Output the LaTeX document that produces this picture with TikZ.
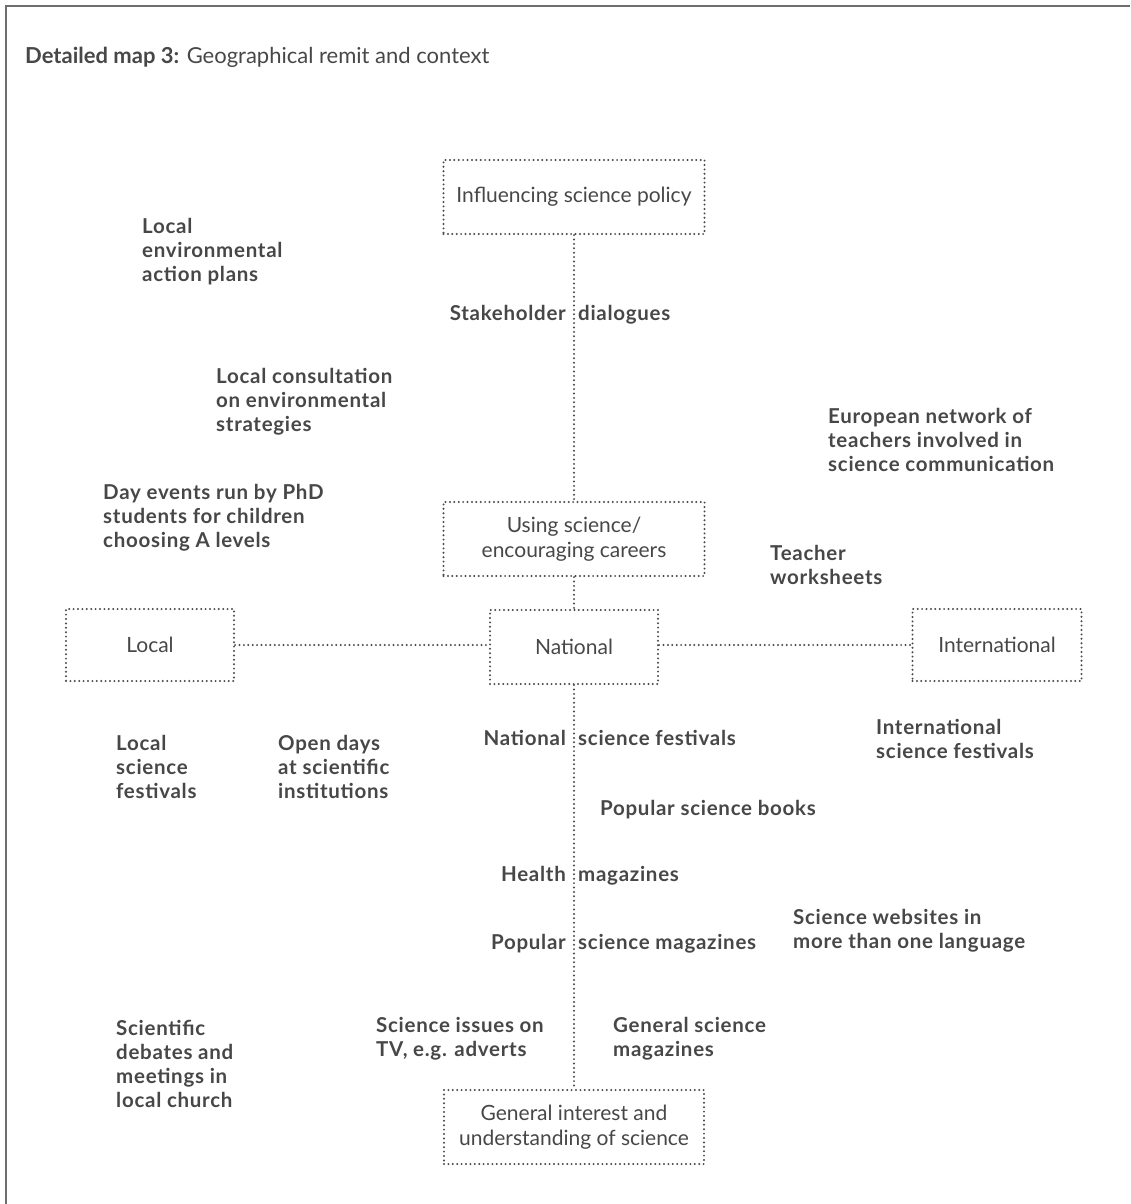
\documentclass[tikz,border=0pt]{standalone}
\usepackage{fontspec}
\setmainfont{Lato}
\newfontfamily\itemfont{Lato}[LetterSpace=3.5]
\definecolor{ink}{HTML}{474747}
\definecolor{dots}{HTML}{4A4A4A}
\definecolor{rule}{HTML}{6E6E6E}
\begin{document}
\begin{tikzpicture}[x=1pt,y=-1pt,
  dotline/.style={draw=dots,line width=2.2pt,line cap=round,dash pattern=on 0pt off 4.4pt},
  areabox/.style={dotline,minimum height=74pt,inner sep=0pt,align=center,text=ink,
    font=\fontsize{21}{24.5}\selectfont},
  item/.style={anchor=north west,inner sep=0pt,align=left,text=ink,
    font=\itemfont\bfseries\fontsize{20.5}{24}\selectfont},
  itemR/.style={item,anchor=north east}]
\useasboundingbox (0,0) rectangle (1130,1204);
% frame
\draw[rule,line width=2pt] (6,1204) -- (6,6) -- (1130,6);
% title
\node[anchor=base west,inner sep=0pt,text=ink,font=\fontsize{22}{26}\selectfont] (title) at (25,64)
  {\textbf{Detailed map 3:} Geographical remit and context};

% areas
\node[areabox,minimum width=261pt] (policy) at (574,197) {Influencing science policy};
\node[areabox,minimum width=261pt] (careers) at (574,539) {Using science/\\encouraging careers};
\node[areabox,minimum width=168pt] (national) at (574,647) {National};
\node[areabox,minimum width=168pt,minimum height=72pt] (local) at (150,645) {Local};
\node[areabox,minimum width=169pt,minimum height=72pt] (intl) at (997,645) {International};
\node[areabox,minimum width=260pt] (general) at (574,1127) {General interest and\\understanding of science};

% connectors
\draw[dotline] (policy.south) -- (careers.north);
\draw[dotline] (careers.south) -- (national.north);
\draw[dotline] (national.south) -- (general.north);
\draw[dotline] (local.east) -- (local.east -| national.west);
\draw[dotline] (intl.west -| national.east) -- (intl.west);

% activities
\node[item] (lenv) at (142,218) {Local\\environmental\\action plans};
\node[itemR] (stakeA) at (566,305) {Stakeholder};
\node[item] (stakeB) at (578,305) {dialogues};
\node[item] (lcons) at (216,368) {Local consultation\\on environmental\\strategies};
\node[item] (euro) at (828,408) {European network of\\teachers involved in\\science communication};
\node[item] (phd) at (103,484) {Day events run by PhD\\students for children\\choosing A levels};
\node[item] (teach) at (770,545) {Teacher\\worksheets};
\node[item] (lfest) at (116,735) {Local\\science\\festivals};
\node[item] (open) at (278,735) {Open days\\at scientific\\institutions};
\node[itemR] (natA) at (566,730) {National};
\node[item] (natB) at (578,730) {science festivals};
\node[item] (ifest) at (876,719) {International\\science festivals};
\node[item] (books) at (600,800) {Popular science books};
\node[itemR] (healthA) at (566,866) {Health};
\node[item] (healthB) at (578,866) {magazines};
\node[item] (web) at (793,909) {Science websites in\\more than one language};
\node[itemR] (popA) at (566,934) {Popular};
\node[item] (popB) at (578,934) {science magazines};
\node[item] (church) at (116,1020) {Scientific\\debates and\\meetings in\\local church};
\node[item] (tv) at (376,1017) {Science issues on\\TV, e.g. adverts};
\node[item] (gmag) at (613,1017) {General science\\magazines};
\end{tikzpicture}
\end{document}
